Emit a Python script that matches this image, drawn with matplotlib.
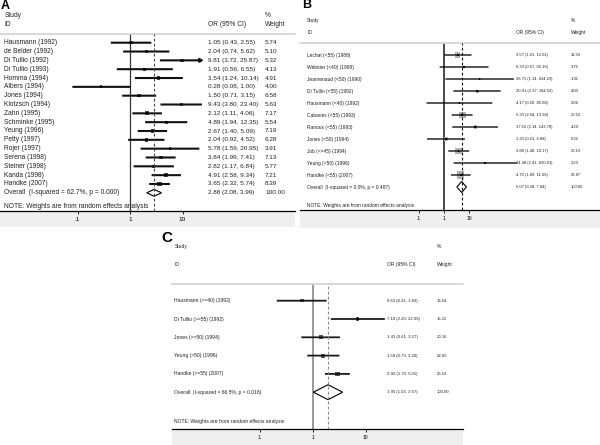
import matplotlib
matplotlib.use('Agg')
import matplotlib.pyplot as plt
from matplotlib.patches import Rectangle, Polygon
from matplotlib.ticker import NullLocator, FixedLocator, FixedFormatter

plt.rcParams['font.family'] = ['Liberation Sans', 'DejaVu Sans']

# ---------------- data: panel A ----------------
a_studies = ["Hausmann (1992)", "de Belder (1992)", "Di Tullio (1992)", "Di Tullio (1993)",
             "Homma (1994)", "Albers (1994)", "Jones (1994)", "Klotzsch (1994)", "Zahn (1995)",
             "Schminke (1995)", "Yeung (1996)", "Petty (1997)", "Rojer (1997)", "Serena (1998)",
             "Steiner (1998)", "Kanda (1998)", "Handke (2007)"]
a_or = [1.05, 2.04, 9.81, 1.91, 3.54, 0.28, 1.50, 9.43, 2.12, 4.89, 2.67, 2.04, 5.78, 3.84, 2.82, 4.91, 3.65]
a_lo = [0.43, 0.74, 3.72, 0.56, 1.24, 0.08, 0.71, 3.80, 1.11, 1.94, 1.40, 0.92, 1.59, 1.99, 1.17, 2.58, 2.32]
a_hi = [2.55, 5.62, 25.87, 6.55, 10.14, 1.00, 3.15, 23.40, 4.06, 12.35, 5.09, 4.52, 20.95, 7.41, 6.84, 9.34, 5.74]
a_wt = [5.74, 5.10, 5.32, 4.13, 4.91, 4.00, 6.58, 5.63, 7.17, 5.54, 7.19, 6.28, 3.91, 7.13, 5.77, 7.21, 8.39]
a_arrow = [False, False, True] + [False] * 14
a_overall = [2.88, 2.08, 3.99]
a_overall_label = "Overall  (I-squared = 62.7%, p = 0.000)"

# ---------------- data: panel B ----------------
b_studies = ["Lechat (<55) (1988)", "Webster (<40) (1988)", "Jeanrenaud (<50) (1990)",
             "Di Tullio (<55) (1992)", "Hausmann (<40) (1992)", "Cabanes (<55) (1993)",
             "Ranoux (<55) (1993)", "Jones (<50) (1994)", "Job (<=45) (1994)",
             "Yeung (<50) (1996)", "Handke (<55) (2007)"]
b_or = [3.57, 6.33, 26.71, 20.91, 4.17, 5.33, 17.52, 1.20, 3.88, 44.48, 4.70]
b_lo = [1.01, 0.67, 1.14, 2.37, 0.20, 2.04, 2.14, 0.21, 1.48, 2.41, 1.89]
b_hi = [12.61, 60.16, 624.23, 184.52, 85.58, 13.94, 143.70, 6.88, 10.17, 820.63, 11.66]
b_wt = [11.93, 3.75, 1.91, 4.00, 2.06, 20.52, 4.29, 6.22, 20.19, 2.23, 22.87]
b_overall = [5.07, 3.28, 7.84]
b_overall_label = "Overall  (I-squared = 0.0%, p = 0.487)"

# ---------------- data: panel C ----------------
c_studies = ["Hausmann (>=40) (1992)", "Di Tullio (>=55) (1992)", "Jones (>=50) (1994)",
             "Yeung (>50) (1996)", "Handke (>=55) (2007)"]
c_or = [0.63, 7.10, 1.41, 1.59, 2.92]
c_lo = [0.21, 2.20, 0.61, 0.79, 1.70]
c_hi = [1.83, 22.96, 3.27, 3.20, 5.01]
c_wt = [16.54, 15.11, 20.16, 22.65, 25.53]
c_overall = [1.95, 1.03, 3.67]
c_overall_label = "Overall  (I-squared = 66.5%, p = 0.018)"

tick_vals = [0.1, 1, 10]
tick_labels = [".1", "1", "10"]
note = "NOTE: Weights are from random effects analysis"

W, H = 600, 445
fig = plt.figure(figsize=(6, 4.45), dpi=100)
fig.patch.set_facecolor('white')


def ftext(px, py, s, **kw):
    fig.text(px / W, 1 - py / H, s, **kw)


def panel(studies, ors, los, his, wts, overall, overall_label, arrows, cfg):
    x0, x1, ytop, ybot = cfg['box']
    one, dec, row0, sp = cfg['one'], cfg['dec'], cfg['row0'], cfg['sp']

    # gray band under axis (behind the axes)
    bx0, bx1, by0, by1 = cfg['band']
    fig.patches.append(Rectangle((bx0 / W, 1 - by1 / H), (bx1 - bx0) / W, (by1 - by0) / H,
                                 transform=fig.transFigure, facecolor='#efefef',
                                 edgecolor='none', zorder=-5))

    ax = fig.add_axes([x0 / W, 1 - ybot / H, (x1 - x0) / W, (ybot - ytop) / H])
    ax.set_xscale('log')
    ax.set_xlim(10 ** ((x0 - one) / dec), 10 ** ((x1 - one) / dec))
    ax.set_ylim((ybot - row0) / sp, (ytop - row0) / sp)
    ax.set_facecolor('none')
    for s in ['left', 'right']:
        ax.spines[s].set_visible(False)
    ax.spines['top'].set_color('#d6d6d6')
    ax.spines['top'].set_linewidth(1.3)
    ax.spines['bottom'].set_color('black')
    ax.spines['bottom'].set_linewidth(0.9)
    ax.yaxis.set_major_locator(NullLocator())
    ax.xaxis.set_major_locator(FixedLocator(tick_vals))
    ax.xaxis.set_major_formatter(FixedFormatter(tick_labels))
    ax.xaxis.set_minor_locator(NullLocator())
    ax.tick_params(axis='x', direction='out', length=2.2, width=0.6,
                   labelsize=cfg['ticksize'], pad=cfg['tickpad'])

    ax.axvline(1, color=cfg['onecolor'], lw=cfg['onelw'], zorder=1)

    rows = list(range(len(studies)))
    for r, lo, hi, a in zip(rows, los, his, arrows):
        style = '-|>' if a else '-'
        ax.annotate('', xy=(hi, r), xytext=(lo, r), xycoords='data', textcoords='data',
                    arrowprops=dict(arrowstyle=style, lw=cfg['cilw'], color=cfg['cicolor'],
                                    shrinkA=0, shrinkB=0, mutation_scale=5,
                                    capstyle='butt'),
                    zorder=3)
    sizes = [(cfg['boxk'] * w ** 0.5 * 0.72) ** 2 for w in wts]
    ax.scatter(ors, rows, s=sizes, marker='s', color=cfg['boxcolor'], edgecolors='none', zorder=2)
    ax.scatter(ors, rows, s=cfg['dot'], marker='s', color='black', edgecolors='none', zorder=4)

    ro = len(studies)
    o, olo, ohi = overall
    hh = cfg['dh'] / sp
    ax.add_patch(Polygon([(olo, ro), (o, ro - hh), (ohi, ro), (o, ro + hh)], closed=True,
                         facecolor='white', edgecolor='black', lw=0.8, zorder=3))
    ax.axvline(o, color=cfg['dashcolor'], lw=0.8, ls=(0, (2.5, 2)), zorder=4)

    tr = ax.get_yaxis_transform()

    def fx(px):
        return (px - x0) / (x1 - x0)

    lab = cfg['labsize']
    num = cfg['numsize']
    for r, s in enumerate(studies + [overall_label]):
        ax.text(fx(cfg['xlab']), r, s, transform=tr, fontsize=lab, va='center', ha='left',
                color='#222222')
    all_or = ors + [overall[0]]
    all_lo = los + [overall[1]]
    all_hi = his + [overall[2]]
    all_w = wts + [100.0]
    for r in range(len(all_or)):
        ax.text(fx(cfg['xor']), r, "%.2f (%.2f, %.2f)" % (all_or[r], all_lo[r], all_hi[r]),
                transform=tr, fontsize=num, va='center', ha='left', color='#222222')
        ax.text(fx(cfg['xw']), r, "%.2f" % all_w[r], transform=tr, fontsize=num,
                va='center', ha='left', color='#222222')
    ax.text(fx(cfg['xlab']), (cfg['ynote'] - row0) / sp, note, transform=tr, fontsize=lab,
            va='center', ha='left', color='#222222')

    yS, yI = cfg['yhead']
    ftext(cfg['xlab'], yS, "Study", fontsize=lab, va='center', ha='left', color='#222222')
    ftext(cfg['xlab'], yI, "ID", fontsize=lab, va='center', ha='left', color='#222222')
    ftext(cfg['xor'], yI, "OR (95% CI)", fontsize=lab, va='center', ha='left', color='#222222')
    ftext(cfg['xw'], yS, "%", fontsize=lab, va='center', ha='left', color='#222222')
    ftext(cfg['xw'], yI, "Weight", fontsize=lab, va='center', ha='left', color='#222222')
    lx, ly, ls = cfg['letter']
    ftext(lx, ly, cfg['name'], fontsize=ls, fontweight='bold', va='center', ha='left')
    return ax


cfgA = dict(name='A', box=(0, 295, 34.3, 210.7), one=130, dec=52.5, row0=42.7, sp=8.83,
            band=(0, 295, 211.5, 227), onecolor='#333333', onelw=0.9, dashcolor='#444444',
            cicolor='#111111', cilw=1.5, boxcolor='#444444', boxk=1.4, dot=1.5, dh=3.4,
            labsize=4.8, numsize=4.6, xlab=4.5, xor=208, xw=265, ynote=206.7,
            yhead=(15.7, 24.3), letter=(1, 6, 9), ticksize=4.6, tickpad=2.0)
cfgB = dict(name='B', box=(300, 600, 42.7, 210), one=444, dec=25, row0=55, sp=12.0,
            band=(300, 600, 210.8, 228), onecolor='#3a3a3a', onelw=1.3, dashcolor='#111111',
            cicolor='#111111', cilw=1.0, boxcolor='#b0b0b0', boxk=1.5, dot=1.2, dh=5.5,
            labsize=3.5, numsize=3.0, xlab=307, xor=516, xw=571, ynote=205.7,
            yhead=(20.7, 32.3), letter=(302.5, 5.5, 9), ticksize=3.6, tickpad=1.8)
cfgC = dict(name='C', box=(172, 463, 284, 429), one=312.7, dec=53, row0=300.7, sp=18.3,
            band=(172, 463, 429.8, 445), onecolor='#999999', onelw=1.4, dashcolor='#888888',
            cicolor='#1a1a1a', cilw=1.3, boxcolor='#555555', boxk=0.85, dot=1.2, dh=7.5,
            labsize=3.6, numsize=3.1, xlab=174.3, xor=386.7, xw=436.7, ynote=421,
            yhead=(246.7, 264.3), letter=(161, 238.3, 11), ticksize=3.6, tickpad=1.8)

panel(a_studies, a_or, a_lo, a_hi, a_wt, a_overall, a_overall_label, a_arrow, cfgA)
panel(b_studies, b_or, b_lo, b_hi, b_wt, b_overall, b_overall_label, [False] * len(b_studies), cfgB)
panel(c_studies, c_or, c_lo, c_hi, c_wt, c_overall, c_overall_label, [False] * len(c_studies), cfgC)

fig.savefig('out.png', dpi=100, facecolor='white')
